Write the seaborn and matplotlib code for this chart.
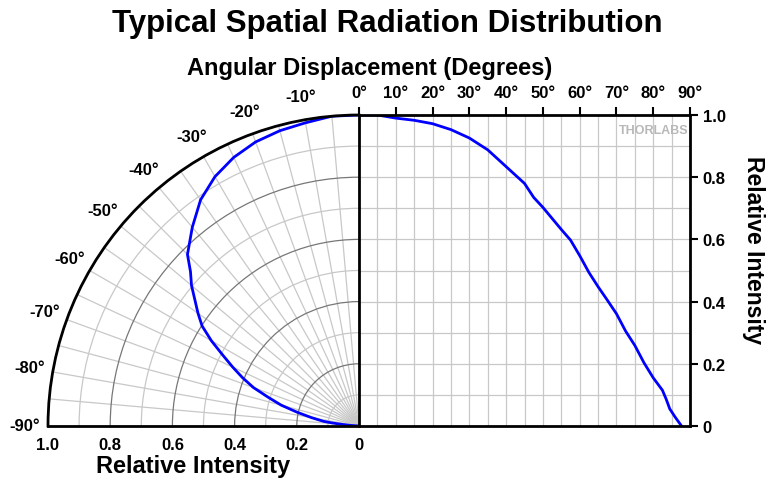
import numpy as np
import pandas as pd
import matplotlib
matplotlib.use('Agg')
import matplotlib.pyplot as plt
from matplotlib.ticker import MultipleLocator, FuncFormatter
import seaborn as sns

# Data (angle in degrees, normalized intensity)
angle_deg = [0, 5, 10, 15, 20, 25, 30, 35, 40, 45, 47.5, 50, 55, 57.5, 60,
             62.5, 65, 67.5, 70, 72.5, 75, 77.5, 80, 82.5, 83.5, 84.5, 86, 87.7]
intensity = [1.0, 1.0, 0.99, 0.983, 0.972, 0.953, 0.926, 0.888, 0.834, 0.78, 0.735, 0.703,
             0.632, 0.598, 0.548, 0.494, 0.448, 0.405, 0.361, 0.305, 0.259, 0.203, 0.155,
             0.115, 0.087, 0.055, 0.028, 0.0]

theta_labels = [-90, -80, -70, -60, -50, -40, -30, -20, -10]
top_ticks = [0, 10, 20, 30, 40, 50, 60, 70, 80, 90]

sns.set_style('white')
plt.rcParams['font.family'] = ['Liberation Sans', 'DejaVu Sans']
plt.rcParams['font.weight'] = 'bold'
plt.rcParams['text.color'] = 'black'
plt.rcParams['xtick.color'] = 'black'
plt.rcParams['ytick.color'] = 'black'

df = pd.DataFrame({'angle': angle_deg, 'intensity': intensity})
df['theta'] = np.deg2rad(-df['angle'])

W, H = 766, 481
fig = plt.figure(figsize=(W / 100, H / 100), dpi=100)

R = 311          # polar radius in pixels
cx, cy = 359, 427  # polar centre in pixels (from top)
light = '#c8c8c8'
dark = '#777777'
blue = '#0000ff'

def fmt(v, p):
    return '0' if abs(v) < 1e-9 else f'{v:.1f}'

# left: quarter polar plot
axp = fig.add_axes([(cx - R) / W, (H - cy) / H, R / W, R / H], projection='polar')
axp.set_theta_zero_location('N')
axp.set_theta_direction(-1)
axp.set_thetamin(-90)
axp.set_thetamax(0)
axp.set_rlim(0, 1)
axp.set_xticks(np.deg2rad(theta_labels + [0]))
axp.set_xticklabels([f'{d}°' for d in theta_labels] + [''])
axp.set_xticks(np.deg2rad(np.arange(-85, 0, 10)), minor=True)
axp.set_yticks([0.2, 0.4, 0.6, 0.8, 1.0])
axp.set_yticks([0.1, 0.3, 0.5, 0.7, 0.9], minor=True)
axp.set_yticklabels([])
axp.tick_params(axis='y', which='both', length=0)
axp.tick_params(axis='x', which='both', direction='out', length=5, width=1.5,
                color='black', labelsize=12, pad=5)
axp.grid(axis='x', which='both', color=light, lw=0.9)
axp.grid(axis='y', which='major', color=dark, lw=0.9)
axp.grid(axis='y', which='minor', color=light, lw=0.9)
axp.spines['polar'].set_linewidth(2)
axp.spines['polar'].set_color('black')
axp.spines['start'].set_visible(False)
axp.spines['end'].set_visible(False)
sns.lineplot(data=df, x='theta', y='intensity', ax=axp, sort=False, color=blue, lw=2)
axp.set_xlabel('')
axp.set_ylabel('')

# overlay for the radial (intensity) scale along the bottom
axb = fig.add_axes([(cx - R) / W, (H - cy) / H, R / W, R / H])
axb.patch.set_alpha(0)
axb.set_xlim(1, 0)
axb.set_ylim(0, 1)
for s in ['top', 'left', 'right']:
    axb.spines[s].set_visible(False)
axb.spines['bottom'].set_linewidth(2)
axb.spines['bottom'].set_color('black')
axb.set_yticks([])
axb.xaxis.set_major_locator(MultipleLocator(0.2))
axb.xaxis.set_minor_locator(MultipleLocator(0.1))
axb.xaxis.set_major_formatter(FuncFormatter(fmt))
axb.tick_params(axis='x', which='both', direction='out', length=5, width=1.5,
                color='black', labelsize=12, pad=3)

# right: cartesian plot
axr = fig.add_axes([cx / W, (H - cy) / H, 331 / W, R / H])
sns.lineplot(data=df, x='angle', y='intensity', ax=axr, sort=False, color=blue, lw=2)
axr.set_xlim(0, 90)
axr.set_ylim(0, 1)
axr.set_xlabel('')
axr.set_ylabel('')
axr.xaxis.tick_top()
axr.set_xticks(top_ticks)
axr.set_xticklabels([f'{d}°' for d in top_ticks])
axr.xaxis.set_minor_locator(MultipleLocator(5))
axr.yaxis.tick_right()
axr.yaxis.set_major_locator(MultipleLocator(0.2))
axr.yaxis.set_minor_locator(MultipleLocator(0.1))
axr.yaxis.set_major_formatter(FuncFormatter(fmt))
axr.tick_params(axis='both', which='major', direction='out', length=6, width=1.5,
                color='black', labelsize=12, pad=3)
axr.tick_params(axis='x', which='major', pad=5)
axr.tick_params(axis='both', which='minor', length=0)
axr.grid(which='both', color=light, lw=0.9)
for s in axr.spines.values():
    s.set_linewidth(2)
    s.set_color('black')
axr.text(0.994, 0.952, 'THORLABS', transform=axr.transAxes, ha='right', va='center',
         color='#b8b8b8', fontsize=9, weight='bold')

fig.text(387 / W, 1 - 24 / H, 'Typical Spatial Radiation Distribution',
         ha='center', va='center', fontsize=22.5, weight='bold')
fig.text(370 / W, 1 - 68 / H, 'Angular Displacement (Degrees)',
         ha='center', va='center', fontsize=17, weight='bold')
fig.text(193 / W, 1 - 467 / H, 'Relative Intensity',
         ha='center', va='center', fontsize=17, weight='bold')
fig.text(754 / W, 1 - 250 / H, 'Relative Intensity', rotation=270,
         ha='center', va='center', fontsize=16.5, weight='bold')

fig.savefig('out.png', dpi=100)
